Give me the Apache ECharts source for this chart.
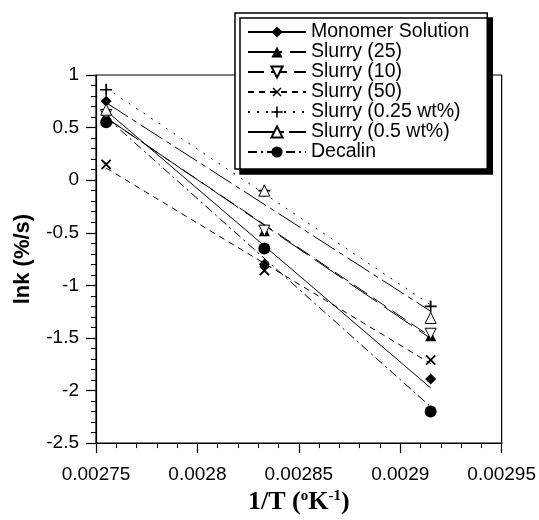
<!DOCTYPE html>
<html><head><meta charset="utf-8">
<script src="https://cdn.jsdelivr.net/npm/echarts@6/dist/echarts.min.js"></script>
<style>html,body{margin:0;padding:0;background:#fff}#c{width:539px;height:520px}</style>
</head><body><div id="c"></div>
<script>
// inverse temperature (1/K) of the three runs
var invT = [0.002755, 0.002833, 0.002915];
var seriesNames = ['Monomer Solution','Slurry (25)','Slurry (10)','Slurry (50)','Slurry (0.25 wt%)','Slurry (0.5 wt%)','Decalin'];
// ln k values at each inverse temperature
var monomer   = [0.75, -0.80, -1.89];
var slurry25  = [0.62, -0.48, -1.48];
var slurry10  = [0.62, -0.48, -1.46];
var slurry50  = [0.15, -0.86, -1.71];
var slurry025 = [0.86, -0.10, -1.20];
var slurry05  = [0.67, -0.10, -1.31];
var decalin   = [0.55, -0.65, -2.20];
var xTickLabels = ['0.00275','0.0028','0.00285','0.0029','0.00295'];
var yTickLabels = ['-2.5','-2','-1.5','-1','-0.5','0','0.5','1'];

var values = [monomer, slurry25, slurry10, slurry50, slurry025, slurry05, decalin];
var PLUS = 'path://M4.3,0H5.7V4.3H10V5.7H5.7V10H4.3V5.7H0V4.3H4.3Z';
var styles = [
  {symbol:'diamond', fill:'#000', rot:0, dash:'solid', size:11},
  {symbol:'triangle', fill:'#000', rot:0, dash:[34,8], size:11},
  {symbol:'triangle', fill:'#fff', rot:180, dash:[16,7], size:11},
  {symbol:PLUS, fill:'#000', rot:45, dash:[6,5], size:13},
  {symbol:PLUS, fill:'#000', rot:0, dash:[2,7], size:12},
  {symbol:'triangle', fill:'#fff', rot:0, dash:[26,5,5,5], size:11},
  {symbol:'circle', fill:'#000', rot:0, dash:[9,4,2,4], size:12}
];

function fit(xs, ys){
  var n = xs.length, mx = 0, my = 0;
  for (var i=0;i<n;i++){ mx += xs[i]; my += ys[i]; }
  mx/=n; my/=n;
  var sxy=0, sxx=0;
  for (var j=0;j<n;j++){ sxy += (xs[j]-mx)*(ys[j]-my); sxx += (xs[j]-mx)*(xs[j]-mx); }
  var b = sxy/sxx, a = my - b*mx;
  return function(x){ return a + b*x; };
}

var series = [];
seriesNames.forEach(function(name, k){
  var st = styles[k];
  var f = fit(invT, values[k]);
  series.push({
    name: name, type:'line', silent:true,
    data: [[invT[0], f(invT[0])],[invT[invT.length-1], f(invT[invT.length-1])]],
    showSymbol:false, symbol: st.symbol, symbolRotate: st.rot, symbolSize: st.size,
    lineStyle:{color:'#000', width:1, type: st.dash},
    itemStyle:{color: st.fill, borderColor:'#000', borderWidth: st.fill==='#fff'?1:0},
    z: 2
  });
});
seriesNames.forEach(function(name, k){
  var st = styles[k];
  series.push({
    name: name, type:'scatter', silent:true,
    data: invT.map(function(x,i){ return [x, values[k][i]]; }),
    symbol: st.symbol, symbolRotate: st.rot, symbolSize: st.size,
    itemStyle:{color: st.fill, borderColor:'#000', borderWidth: st.fill==='#fff'?1:0, opacity:1},
    z: 3
  });
});

var font = "'Liberation Sans', Arial, Helvetica, sans-serif";
var serif = "'Liberation Serif','Times New Roman',serif";
var chart = echarts.init(document.getElementById('c'), null, {renderer:'canvas'});
chart.setOption({
  animation:false,
  backgroundColor:'#fff',
  grid:{left:96, right:37, top:75, bottom:68, show:true, borderColor:'#000', borderWidth:1.2, backgroundColor:'transparent'},
  legend:{
    orient:'vertical', left:235, top:13,
    data: seriesNames,
    padding:[9,18,7,12], itemGap:0, itemWidth:58, itemHeight:14,
    backgroundColor:'#fff', borderColor:'#000', borderWidth:1.5,
    shadowColor:'#000', shadowBlur:0, shadowOffsetX:5, shadowOffsetY:5,
    textStyle:{fontFamily:font, fontSize:19.5, color:'#000', lineHeight:19.8},
    itemTextGap:7, selectedMode:false, z:10
  },
  xAxis:{
    type:'value', min:0.00275, max:0.00295, interval:0.00005,
    name:'{b|1/T (}{s|o}{b|K}{s|-1}{b|)}', nameLocation:'middle', nameGap:45,
    nameTextStyle:{rich:{
      b:{fontFamily:serif, fontWeight:'bold', fontSize:26, color:'#000', verticalAlign:'bottom', lineHeight:26},
      s:{fontFamily:serif, fontWeight:'bold', fontSize:15, color:'#000', verticalAlign:'top', lineHeight:26, padding:[0,0,11,0]}
    }},
    axisLine:{show:true, onZero:false, lineStyle:{color:'#000', width:1.2}},
    axisTick:{show:true, length:10, inside:false, lineStyle:{color:'#000', width:1.2}},
    minorTick:{show:true, splitNumber:5, length:5, lineStyle:{color:'#000', width:1}},
    splitLine:{show:false},
    axisLabel:{margin:22, fontFamily:font, fontSize:19, color:'#000',
      formatter:function(v){ var i = Math.round((v-0.00275)/0.00005); return xTickLabels[i]; }}
  },
  yAxis:{
    type:'value', min:-2.5, max:1, interval:0.5,
    name:'lnk (%/s)', nameLocation:'middle', nameGap:62, nameRotate:90,
    nameTextStyle:{fontFamily:font, fontWeight:'bold', fontSize:22, color:'#000'},
    axisLine:{show:true, onZero:false, lineStyle:{color:'#000', width:1.2}},
    axisTick:{show:true, length:10, inside:false, lineStyle:{color:'#000', width:1.2}},
    minorTick:{show:true, splitNumber:5, length:5, lineStyle:{color:'#000', width:1}},
    splitLine:{show:false},
    axisLabel:{margin:17, fontFamily:font, fontSize:19, color:'#000',
      formatter:function(v){ var i = Math.round((v+2.5)/0.5); return yTickLabels[i]; }}
  },
  series: series
});
</script></body></html>
